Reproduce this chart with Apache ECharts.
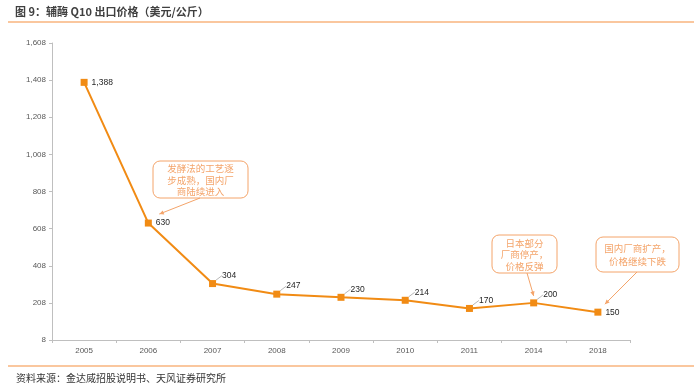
<!DOCTYPE html>
<html><head><meta charset="utf-8">
<script src="https://cdn.jsdelivr.net/npm/echarts@6/dist/echarts.min.js"></script>
<style>html,body{margin:0;padding:0;background:#fff}#c{width:700px;height:388px}</style>
</head><body><div id="c"></div>
<script>
var categories = ['2005','2006','2007','2008','2009','2010','2011','2014','2018'];
var prices = [1388, 630, 304, 247, 230, 214, 170, 200, 150];
var yTickValues = [0, 200, 400, 600, 800, 1000, 1200, 1400, 1600];
var yTickLabels = ['8','208','408','608','808','1,008','1,208','1,408','1,608'];
var titleText = '图 9：辅酶 Q10 出口价格（美元/公斤）';
var sourceText = '资料来源：金达威招股说明书、天风证券研究所';
var notes = [
  ['发酵法的工艺逐','步成熟，国内厂','商陆续进入'],
  ['日本部分','厂商停产，','价格反弹'],
  ['国内厂商扩产，','价格继续下跌']
];

var ORANGE = '#F18B14';
var NOTE = '#F4A46A';
var chart = echarts.init(document.getElementById('c'), null, {renderer:'canvas'});

function fmt(v){ return v.toLocaleString('en-US'); }

var seriesData = prices.map(function(v, i){
  var item = {value: v};
  if (!(i >= 2 && i <= 7)) {
    item.labelLine = {show: false};
  }
  return item;
});

var option = {
  animation: false,
  backgroundColor: '#fff',
  grid: {left: 52, right: 70, top: 43, bottom: 48},
  xAxis: {
    type: 'category', data: categories, boundaryGap: true,
    axisLine: {lineStyle: {color: '#bfbfbf', width: 1}},
    axisTick: {show: true, length: 3, lineStyle: {color: '#bfbfbf'}},
    axisLabel: {color: '#595959', fontSize: 8, margin: 7, fontFamily: 'Liberation Sans'}
  },
  yAxis: {
    type: 'value', min: 0, max: 1600, interval: 200,
    axisLine: {show: true, lineStyle: {color: '#bfbfbf', width: 1}},
    axisTick: {show: true, length: 3, lineStyle: {color: '#bfbfbf'}},
    splitLine: {show: false},
    axisLabel: {color: '#595959', fontSize: 8, margin: 6, fontFamily: 'Liberation Sans',
      formatter: function(v){ var k = yTickValues.indexOf(v); return k >= 0 ? yTickLabels[k] : ''; }}
  },
  series: [{
    type: 'line', data: seriesData,
    symbol: 'rect', symbolSize: 7,
    itemStyle: {color: ORANGE},
    lineStyle: {color: ORANGE, width: 2},
    label: {show: true, position: 'right', distance: 4, color: '#262626', fontSize: 8.5,
      fontFamily: 'Liberation Sans', formatter: function(p){ return fmt(p.value); }},
    labelLayout: function(p){
      if (p.dataIndex >= 2 && p.dataIndex <= 7) return {dx: 2, dy: -8};
      return {};
    },
    labelLine: {show: true, length2: 0, smooth: 0.4, lineStyle: {color: '#a6a6a6', width: 0.8}}
  }],
  graphic: [
    {type: 'text', left: 15, top: 6, style: {text: titleText, fill: '#404040', font: 'bold 11px "Noto Sans CJK SC"'}},
    {type: 'line', shape: {x1: 8, y1: 22, x2: 694, y2: 22}, style: {stroke: '#F9B47E', lineWidth: 1.5}},
    {type: 'line', shape: {x1: 8, y1: 366, x2: 694, y2: 366}, style: {stroke: '#F9B47E', lineWidth: 1.5}},
    {type: 'text', left: 16, top: 373, style: {text: sourceText, fill: '#333', font: '10px "Noto Sans CJK SC"'}}
  ]
};
chart.setOption(option);

function noteBox(x, y, w, h, lines, lh){
  return [
    {type: 'rect', shape: {x: x, y: y, width: w, height: h, r: 7}, style: {fill: '#fff', stroke: NOTE, lineWidth: 1}, z: 10},
    {type: 'text', x: x + w/2, y: y + h/2 + 0.5, z: 11, style: {text: lines.join('\n'), fill: NOTE, align: 'center', verticalAlign: 'middle', font: '9.5px "Noto Sans CJK SC"', lineHeight: lh}}
  ];
}
function arrow(x1, y1, x2, y2){
  var a = Math.atan2(y2 - y1, x2 - x1), L = 5, s = 0.45;
  return [
    {type: 'line', z: 10, shape: {x1: x1, y1: y1, x2: x2, y2: y2}, style: {stroke: NOTE, lineWidth: 1}},
    {type: 'polygon', z: 10, shape: {points: [[x2, y2],
      [x2 - L*Math.cos(a - s), y2 - L*Math.sin(a - s)],
      [x2 - L*Math.cos(a + s), y2 - L*Math.sin(a + s)]]}, style: {fill: NOTE}}
  ];
}
var p1 = chart.convertToPixel({gridIndex: 0}, [1, prices[1]]);
var p7 = chart.convertToPixel({gridIndex: 0}, [7, prices[7]]);
var p8 = chart.convertToPixel({gridIndex: 0}, [8, prices[8]]);
var extra = [].concat(
  noteBox(153, 161, 95, 37, notes[0], 11.5),
  arrow(200, 198, p1[0] + 11, p1[1] - 9),
  noteBox(492, 235, 65, 38, notes[1], 11.5),
  arrow(527, 273, p7[0], p7[1] - 7),
  noteBox(596, 237, 83, 35, notes[2], 12.5),
  arrow(637, 272, p8[0] + 7, p8[1] - 8)
);
chart.setOption({graphic: option.graphic.concat(extra)}, {replaceMerge: ['graphic']});
</script></body></html>
